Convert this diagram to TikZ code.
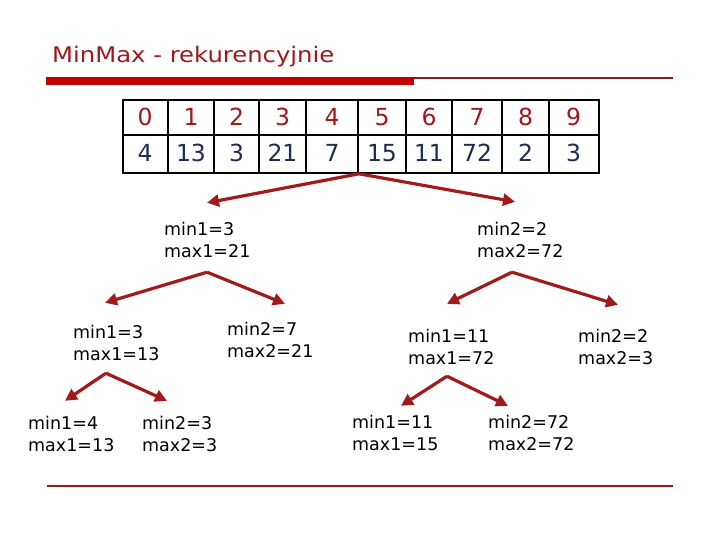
\documentclass[tikz,border=0pt]{standalone}
\usepackage{fontspec}
\setmainfont{DejaVu Sans}
\usetikzlibrary{arrows.meta,calc}
\definecolor{titlered}{HTML}{9E1A1A}
\definecolor{barred}{HTML}{C00000}
\definecolor{arrred}{HTML}{A31A1A}
\definecolor{idxred}{HTML}{A01818}
\definecolor{valblue}{HTML}{1F2B50}
\definecolor{rulered}{HTML}{8E1F1F}
\begin{document}
\begin{tikzpicture}[x=1pt,y=-1pt,
  lbl/.style={anchor=west, align=left, inner sep=0pt, minimum height=44pt, font=\fontsize{17.5}{22}\selectfont},
  arr/.style={draw=arrred, line width=3.2pt, -{Triangle[length=12pt,width=12pt]}},
  idx/.style={text=idxred, inner sep=0pt, anchor=base, font=\fontsize{23.5}{26}\selectfont},
  val/.style={text=valblue, inner sep=0pt, anchor=base, font=\fontsize{23.5}{26}\selectfont},
  grid/.style={line width=1.8pt, draw=black}]
\useasboundingbox (0,0) rectangle (720,540);
% title and rules
\node[anchor=base west, text=titlered, inner sep=0pt, font=\fontsize{21.5}{25}\selectfont] (title) at (52,63) {\scalebox{1.13}[1]{MinMax - rekurencyjnie}};
\fill[barred] (46,77.5) rectangle (414,85.5);
\draw[rulered, line width=1.2pt] (414,78) -- (673,78);
\draw[rulered, line width=1.2pt] (47,486) -- (673,486);
% table
\node[grid, draw, minimum width=476pt, minimum height=73pt, inner sep=0pt, anchor=north west] (tbl) at (122,99) {};
\draw[grid] (122,135) -- (598,135);
\foreach \x in {168,214,259,306,358,406,452,502,549} { \draw[grid] (\x,99) -- (\x,172); }
\foreach \c/\i/\v in {145/0/4, 191/1/13, 236.5/2/3, 282.5/3/21, 332/4/7, 382/5/15, 429/6/11, 477/7/72, 525.5/8/2, 573.5/9/3} {
  \node[idx] (i\i) at (\c,125.5) {\i};
  \node[val] (v\i) at (\c,162) {\v};
}
% tree labels
\node[lbl] (a) at (164,240) {min1=3\\max1=21};
\node[lbl] (b) at (477,240) {min2=2\\max2=72};
\node[lbl] (c) at (73,342.5) {min1=3\\max1=13};
\node[lbl] (d) at (227,340) {min2=7\\max2=21};
\node[lbl] (e) at (28,433.5) {min1=4\\max1=13};
\node[lbl] (f) at (142,434) {min2=3\\max2=3};
\node[lbl] (g) at (408,347) {min1=11\\max1=72};
\node[lbl] (h) at (578,347) {min2=2\\max2=3};
\node[lbl] (i) at (352,432.5) {min1=11\\max1=15};
\node[lbl] (j) at (488,432.5) {min2=72\\max2=72};
% arrows
\draw[arr] ([xshift=-2pt]tbl.south) -- ($(a.north west)+(43,-15)$);
\draw[arr] ([xshift=-2pt]tbl.south) -- ($(b.north west)+(38,-16)$);
\draw[arr] ($(a.south west)+(43,10)$) -- ($(c.north west)+(32,-17.5)$);
\draw[arr] ($(a.south west)+(43,10)$) -- ($(d.north west)+(58,-14)$);
\draw[arr] ($(b.south west)+(35,10)$) -- ($(g.north west)+(39,-21)$);
\draw[arr] ($(b.south west)+(35,10)$) -- ($(h.north west)+(40,-20)$);
\draw[arr] ($(c.south west)+(33,8.5)$) -- ($(e.north west)+(37,-10.5)$);
\draw[arr] ($(c.south west)+(33,8.5)$) -- ($(f.north west)+(25,-11)$);
\draw[arr] ($(g.south west)+(39,7)$) -- ($(i.north west)+(49,-4.5)$);
\draw[arr] ($(g.south west)+(39,7)$) -- ($(j.north west)+(20,-4.5)$);
\end{tikzpicture}
\end{document}
